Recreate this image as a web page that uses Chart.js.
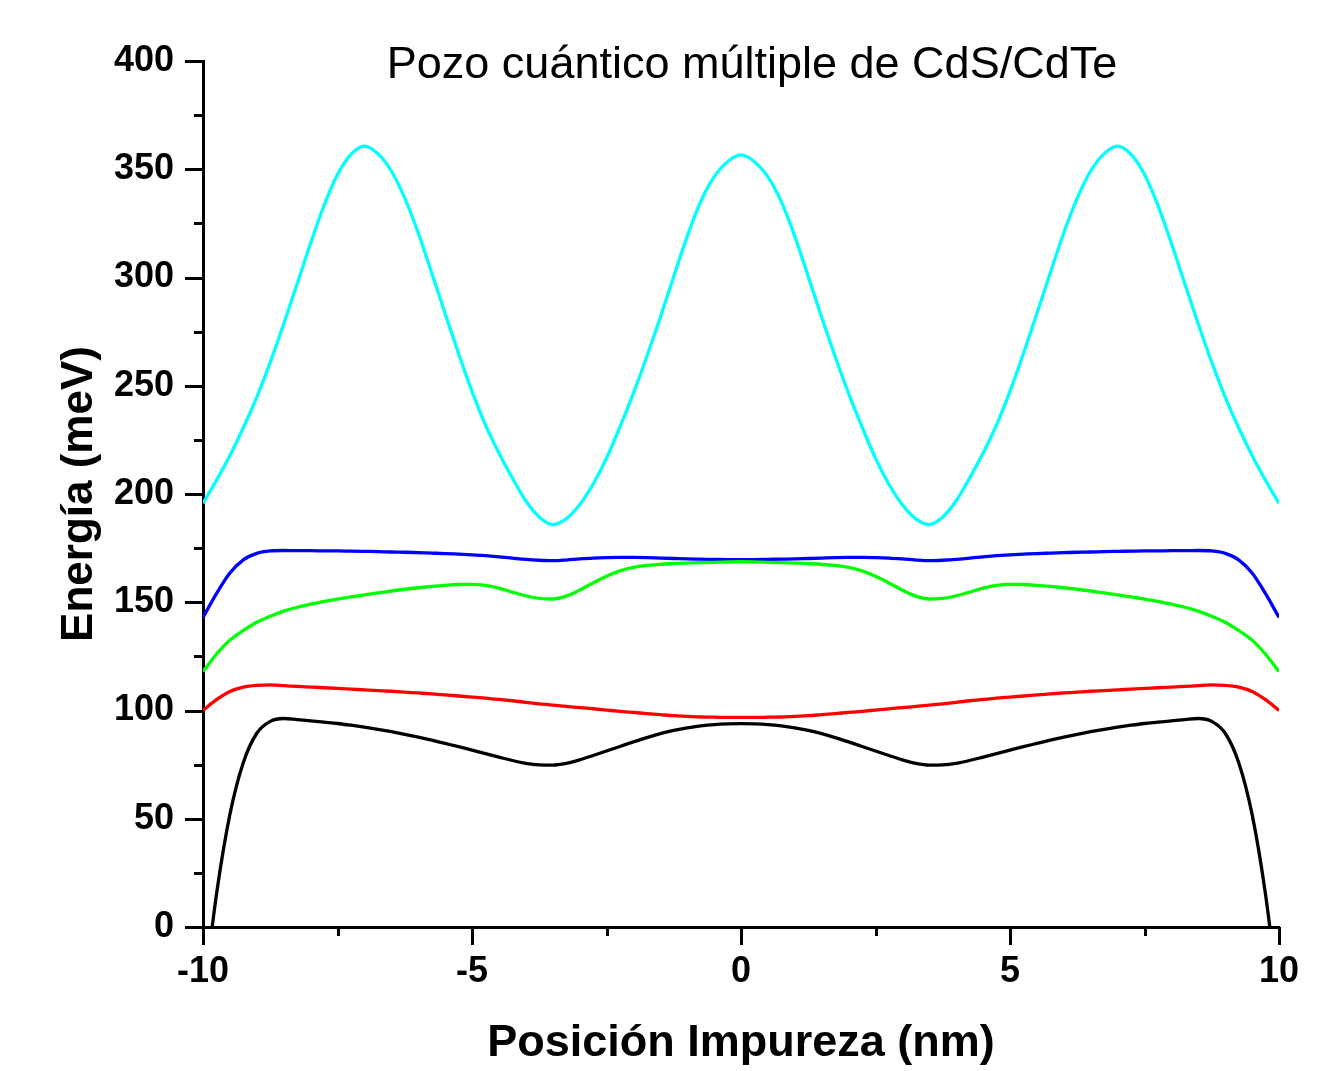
<!DOCTYPE html>
<html>
<head>
<meta charset="utf-8">
<script src="https://cdn.jsdelivr.net/npm/chart.js@4.4.1/dist/chart.umd.min.js"></script>
<style>
  html, body { margin: 0; padding: 0; background: #ffffff; }
  #wrap { width: 1328px; height: 1071px; }
</style>
</head>
<body>
<div id="wrap"><canvas id="c" width="1328" height="1071"></canvas></div>
<script>
const TITLE = 'Pozo cuántico múltiple de CdS/CdTe';
const X_TITLE = 'Posición Impureza (nm)';
const Y_TITLE = 'Energía (meV)';

const positions = [
  -10, -9.75, -9.5, -9.25, -9, -8.75, -8.5, -8.25, -8, -7.75,
  -7.5, -7.25, -7, -6.75, -6.5, -6.25, -6, -5.75, -5.5, -5.25,
  -5, -4.75, -4.5, -4.25, -4, -3.75, -3.5, -3.25, -3, -2.75,
  -2.5, -2.25, -2, -1.75, -1.5, -1.25, -1, -0.75, -0.5, -0.25,
  0,
  0.25, 0.5, 0.75, 1, 1.25, 1.5, 1.75, 2, 2.25, 2.5,
  2.75, 3, 3.25, 3.5, 3.75, 4, 4.25, 4.5, 4.75, 5,
  5.25, 5.5, 5.75, 6, 6.25, 6.5, 6.75, 7, 7.25, 7.5,
  7.75, 8, 8.25, 8.5, 8.75, 9, 9.25, 9.5, 9.75, 10
];

const level1 = [ // black
  -35, 15, 52, 76, 89.5, 95, 96.3, 95.8, 95.2, 94.6,
  94, 93.2, 92.3, 91.3, 90.2, 89, 87.7, 86.3, 84.8, 83.3,
  81.7, 80.1, 78.5, 76.9, 75.6, 74.9, 74.8, 75.6, 77.2, 79.2,
  81.3, 83.4, 85.5, 87.5, 89.3, 90.8, 92, 92.9, 93.5, 93.8,
  93.9,
  93.8, 93.5, 92.9, 92, 90.8, 89.3, 87.5, 85.5, 83.4, 81.3,
  79.2, 77.2, 75.6, 74.8, 74.9, 75.6, 76.9, 78.5, 80.1, 81.7,
  83.3, 84.8, 86.3, 87.7, 89, 90.2, 91.3, 92.3, 93.2, 94,
  94.6, 95.2, 95.8, 96.3, 95, 89.5, 76, 52, 15, -35
];

const level2 = [ // red
  100, 105, 108.8, 110.8, 111.6, 111.8, 111.5, 111.1, 110.8, 110.5,
  110.2, 109.9, 109.5, 109.2, 108.9, 108.5, 108.1, 107.7, 107.2, 106.7,
  106.2, 105.7, 105.1, 104.5, 103.8, 103.1, 102.5, 101.9, 101.3, 100.8,
  100.2, 99.6, 99.1, 98.6, 98.1, 97.6, 97.3, 97.0, 96.9, 96.8,
  96.8,
  96.8, 96.9, 97.0, 97.3, 97.6, 98.1, 98.6, 99.1, 99.6, 100.2,
  100.8, 101.3, 101.9, 102.5, 103.1, 103.8, 104.5, 105.1, 105.7, 106.2,
  106.7, 107.2, 107.7, 108.1, 108.5, 108.9, 109.2, 109.5, 109.9, 110.2,
  110.5, 110.8, 111.1, 111.5, 111.8, 111.6, 110.8, 108.8, 105, 100
];

const level3 = [ // green
  118, 126, 132.5, 137, 140.8, 143.5, 145.9, 147.7, 149.1, 150.4,
  151.5, 152.5, 153.4, 154.3, 155.2, 156, 156.7, 157.3, 157.8, 158.2,
  158.3, 157.8, 156.5, 154.7, 153, 151.8, 151.5, 152.8, 155.6, 158.9,
  162, 164.5, 166.1, 167, 167.5, 167.9, 168.1, 168.3, 168.4, 168.6,
  168.7,
  168.6, 168.4, 168.3, 168.1, 167.9, 167.5, 167, 166.1, 164.5, 162,
  158.9, 155.6, 152.8, 151.5, 151.8, 153, 154.7, 156.5, 157.8, 158.3,
  158.2, 157.8, 157.3, 156.7, 156, 155.2, 154.3, 153.4, 152.5, 151.5,
  150.4, 149.1, 147.7, 145.9, 143.5, 140.8, 137, 132.5, 126, 118
];

const level4 = [ // blue
  143, 154, 163.5, 169.6, 172.6, 173.7, 173.9, 173.8, 173.8, 173.7,
  173.7, 173.6, 173.5, 173.4, 173.2, 173.1, 172.9, 172.7, 172.5, 172.2,
  171.9, 171.5, 171, 170.4, 169.8, 169.4, 169.2, 169.5, 170, 170.4,
  170.6, 170.7, 170.7, 170.6, 170.4, 170.2, 170, 169.9, 169.8, 169.7,
  169.7,
  169.7, 169.8, 169.9, 170, 170.2, 170.4, 170.6, 170.7, 170.7, 170.6,
  170.4, 170, 169.5, 169.2, 169.4, 169.8, 170.4, 171, 171.5, 171.9,
  172.2, 172.5, 172.7, 172.9, 173.1, 173.2, 173.4, 173.5, 173.6, 173.7,
  173.7, 173.8, 173.8, 173.9, 173.7, 172.6, 169.6, 163.5, 154, 143
];

const level5 = [ // cyan
  195.7, 206.3, 217.8, 230.6, 244.8, 260.8, 278.5, 297.1, 315.8, 333.3,
  347.6, 356.9, 360.7, 357.2, 349.2, 336.7, 320.7, 302.2, 283.4, 264.9,
  247.4, 231.9, 218.9, 207.4, 196.9, 189.4, 185.9, 188.5, 195, 204.5,
  216.5, 231, 246.5, 263.5, 281.5, 300.5, 319, 335, 346.5, 353.5,
  356.6,
  353.5, 346.5, 335, 319, 300.5, 281.5, 263.5, 246.5, 231, 216.5,
  204.5, 195, 188.5, 185.9, 189.4, 196.9, 207.4, 218.9, 231.9, 247.4,
  264.9, 283.4, 302.2, 320.7, 336.7, 349.2, 357.2, 360.7, 356.9, 347.6,
  333.3, 315.8, 297.1, 278.5, 260.8, 244.8, 230.6, 217.8, 206.3, 195.7
];

const xMajorTicks = [-10, -5, 0, 5, 10];
const yMajorTicks = [0, 50, 100, 150, 200, 250, 300, 350, 400];

function toPoints(ys) {
  return positions.map((x, i) => ({ x: x, y: ys[i] }));
}

const seriesDefs = [
  { data: level1, color: '#000000' },
  { data: level2, color: '#ff0000' },
  { data: level3, color: '#00ff00' },
  { data: level4, color: '#0000ff' },
  { data: level5, color: '#00ffff' }
];

const FONT = '"Liberation Sans", Arial, Helvetica, sans-serif';

const decorPlugin = {
  id: 'decor',
  afterDraw(chart) {
    const { ctx, chartArea, scales } = chart;
    ctx.save();
    ctx.strokeStyle = '#000';
    ctx.lineWidth = 3;
    ctx.lineCap = 'butt';
    scales.y.ticks.forEach(t => {
      const py = Math.round(scales.y.getPixelForValue(t.value)) + 0.5;
      const len = yMajorTicks.includes(t.value) ? 18 : 9;
      ctx.beginPath();
      ctx.moveTo(chartArea.left - len, py);
      ctx.lineTo(chartArea.left, py);
      ctx.stroke();
    });
    scales.x.ticks.forEach(t => {
      const px = Math.round(scales.x.getPixelForValue(t.value)) + 0.5;
      const len = xMajorTicks.includes(t.value) ? 18 : 9;
      ctx.beginPath();
      ctx.moveTo(px, chartArea.bottom);
      ctx.lineTo(px, chartArea.bottom + len);
      ctx.stroke();
    });
    ctx.font = '45px ' + FONT;
    ctx.fillStyle = '#000';
    ctx.textAlign = 'center';
    ctx.textBaseline = 'alphabetic';
    ctx.fillText(TITLE, (chartArea.left + chartArea.right) / 2 + 11, chartArea.top + 17);
    ctx.restore();
  }
};

new Chart(document.getElementById('c'), {
  type: 'line',
  data: {
    datasets: seriesDefs.map(s => ({
      data: toPoints(s.data),
      borderColor: s.color,
      backgroundColor: s.color,
      borderWidth: 3.3,
      pointRadius: 0,
      fill: false,
      cubicInterpolationMode: 'monotone'
    }))
  },
  options: {
    responsive: false,
    animation: false,
    devicePixelRatio: 1,
    layout: { padding: { left: 0, right: 49, top: 61, bottom: 0 } },
    plugins: {
      legend: { display: false },
      tooltip: { enabled: false },
      title: { display: false }
    },
    scales: {
      x: {
        type: 'linear',
        min: -10,
        max: 10,
        afterFit(scale) { scale.height = 144; },
        grid: { display: false, drawTicks: false },
        border: { display: true, color: '#000', width: 3 },
        ticks: {
          stepSize: 2.5,
          autoSkip: false,
          maxRotation: 0,
          padding: 23,
          color: '#000',
          font: { family: FONT, size: 36, weight: 'bold' },
          callback: v => xMajorTicks.includes(v) ? String(v) : ''
        },
        title: {
          display: true,
          text: X_TITLE,
          color: '#000',
          font: { family: FONT, size: 45, weight: 'bold' },
          padding: { top: 0, bottom: 0 }
        }
      },
      y: {
        type: 'linear',
        min: 0,
        max: 400,
        afterFit(scale) { scale.width = 203; },
        grid: { display: false, drawTicks: false },
        border: { display: true, color: '#000', width: 3 },
        ticks: {
          stepSize: 25,
          autoSkip: false,
          padding: 29,
          color: '#000',
          font: { family: FONT, size: 36, weight: 'bold' },
          callback: v => yMajorTicks.includes(v) ? String(v) : ''
        },
        title: {
          display: true,
          text: Y_TITLE,
          color: '#000',
          font: { family: FONT, size: 44, weight: 'bold' },
          padding: { top: 53, bottom: 0 }
        }
      }
    }
  },
  plugins: [decorPlugin]
});
</script>
</body>
</html>
